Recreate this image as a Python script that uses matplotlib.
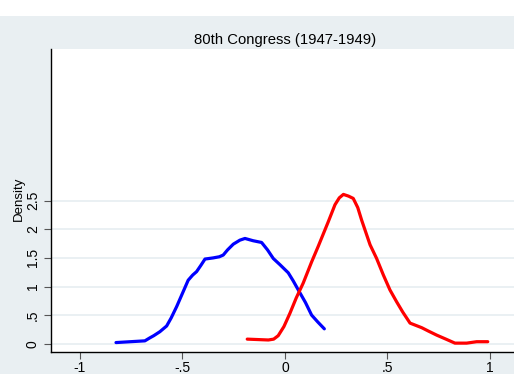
import matplotlib
matplotlib.use("Agg")
import matplotlib.pyplot as plt
from matplotlib.patches import Rectangle

# kernel density of first-dimension scores, 80th Congress
dem_x = [-0.824, -0.683, -0.66, -0.64, -0.61, -0.577, -0.555, -0.528, -0.50, -0.472,
         -0.45, -0.431, -0.41, -0.39, -0.35, -0.32, -0.301, -0.28, -0.252, -0.22,
         -0.195, -0.155, -0.114, -0.085, -0.057, -0.024, 0.016, 0.04, 0.065, 0.10,
         0.13, 0.16, 0.192]
dem_y = [0.02, 0.05, 0.10, 0.14, 0.21, 0.31, 0.45, 0.65, 0.88, 1.11,
         1.20, 1.26, 1.37, 1.48, 1.50, 1.52, 1.55, 1.64, 1.74, 1.81,
         1.84, 1.80, 1.77, 1.64, 1.49, 1.38, 1.24, 1.10, 0.94, 0.72,
         0.50, 0.38, 0.26]

rep_x = [-0.184, -0.081, -0.055, -0.033, -0.005, 0.024, 0.055, 0.089, 0.13, 0.162,
         0.211, 0.244, 0.265, 0.285, 0.31, 0.333, 0.355, 0.374, 0.415, 0.447,
         0.48, 0.512, 0.545, 0.575, 0.61, 0.667, 0.70, 0.74, 0.785, 0.829,
         0.886, 0.935, 0.989]
rep_y = [0.08, 0.065, 0.08, 0.14, 0.30, 0.53, 0.80, 1.06, 1.43, 1.70,
         2.13, 2.43, 2.55, 2.61, 2.58, 2.54, 2.38, 2.16, 1.73, 1.49,
         1.20, 0.94, 0.73, 0.55, 0.36, 0.28, 0.22, 0.15, 0.08, 0.01,
         0.01, 0.035, 0.035]

xticks = [-1, -0.5, 0, 0.5, 1]
xlabels = ["-1", "-.5", "0", ".5", "1"]
yticks = [0, 0.5, 1, 1.5, 2, 2.5]
ylabels = ["0", ".5", "1", "1.5", "2", "2.5"]

plt.rcParams["font.family"] = ["Liberation Sans", "DejaVu Sans"]

W, H = 514, 374
fig = plt.figure(figsize=(W / 100, H / 100), dpi=100)
fig.patch.set_facecolor("#e9eff2")
# white strip along the top edge
fig.add_artist(Rectangle((0, 1 - 16 / H), 1, 16 / H, transform=fig.transFigure,
                         facecolor="white", edgecolor="none", zorder=0))

ax = fig.add_axes([51 / W, 22 / H, 1 - 51 / W, (352 - 49) / H])
ax.set_facecolor("white")

ax.plot(dem_x, dem_y, color="#0000ff", lw=2.3, solid_capstyle="round", solid_joinstyle="round")
ax.plot(rep_x, rep_y, color="#ff0000", lw=2.3, solid_capstyle="round", solid_joinstyle="round")

ax.set_xlim(-1.141, 1.117)
ax.set_ylim(-0.145, 5.152)

ax.set_xticks(xticks)
ax.set_xticklabels(xlabels)
ax.set_yticks(yticks)
ax.set_yticklabels(ylabels, rotation=90, va="center")
ax.tick_params(labelsize=10, length=5, width=0.8, color="#555555", pad=3)
ax.tick_params(axis="x", pad=1.5)

ax.grid(axis="y", color="#e6eef1", lw=1.2)
ax.set_axisbelow(True)

for s in ["top", "right"]:
    ax.spines[s].set_visible(False)
for s in ["left", "bottom"]:
    ax.spines[s].set_linewidth(1.0)
    ax.spines[s].set_color("black")

fig.text(285 / W, 1 - 40 / H, "80th Congress (1947-1949)", ha="center", va="center", fontsize=10.7)
fig.text(19 / W, 1 - 199 / H, "Density", ha="center", va="center", rotation=90, fontsize=9.5)

fig.savefig("out.png", dpi=100, facecolor=fig.get_facecolor())
